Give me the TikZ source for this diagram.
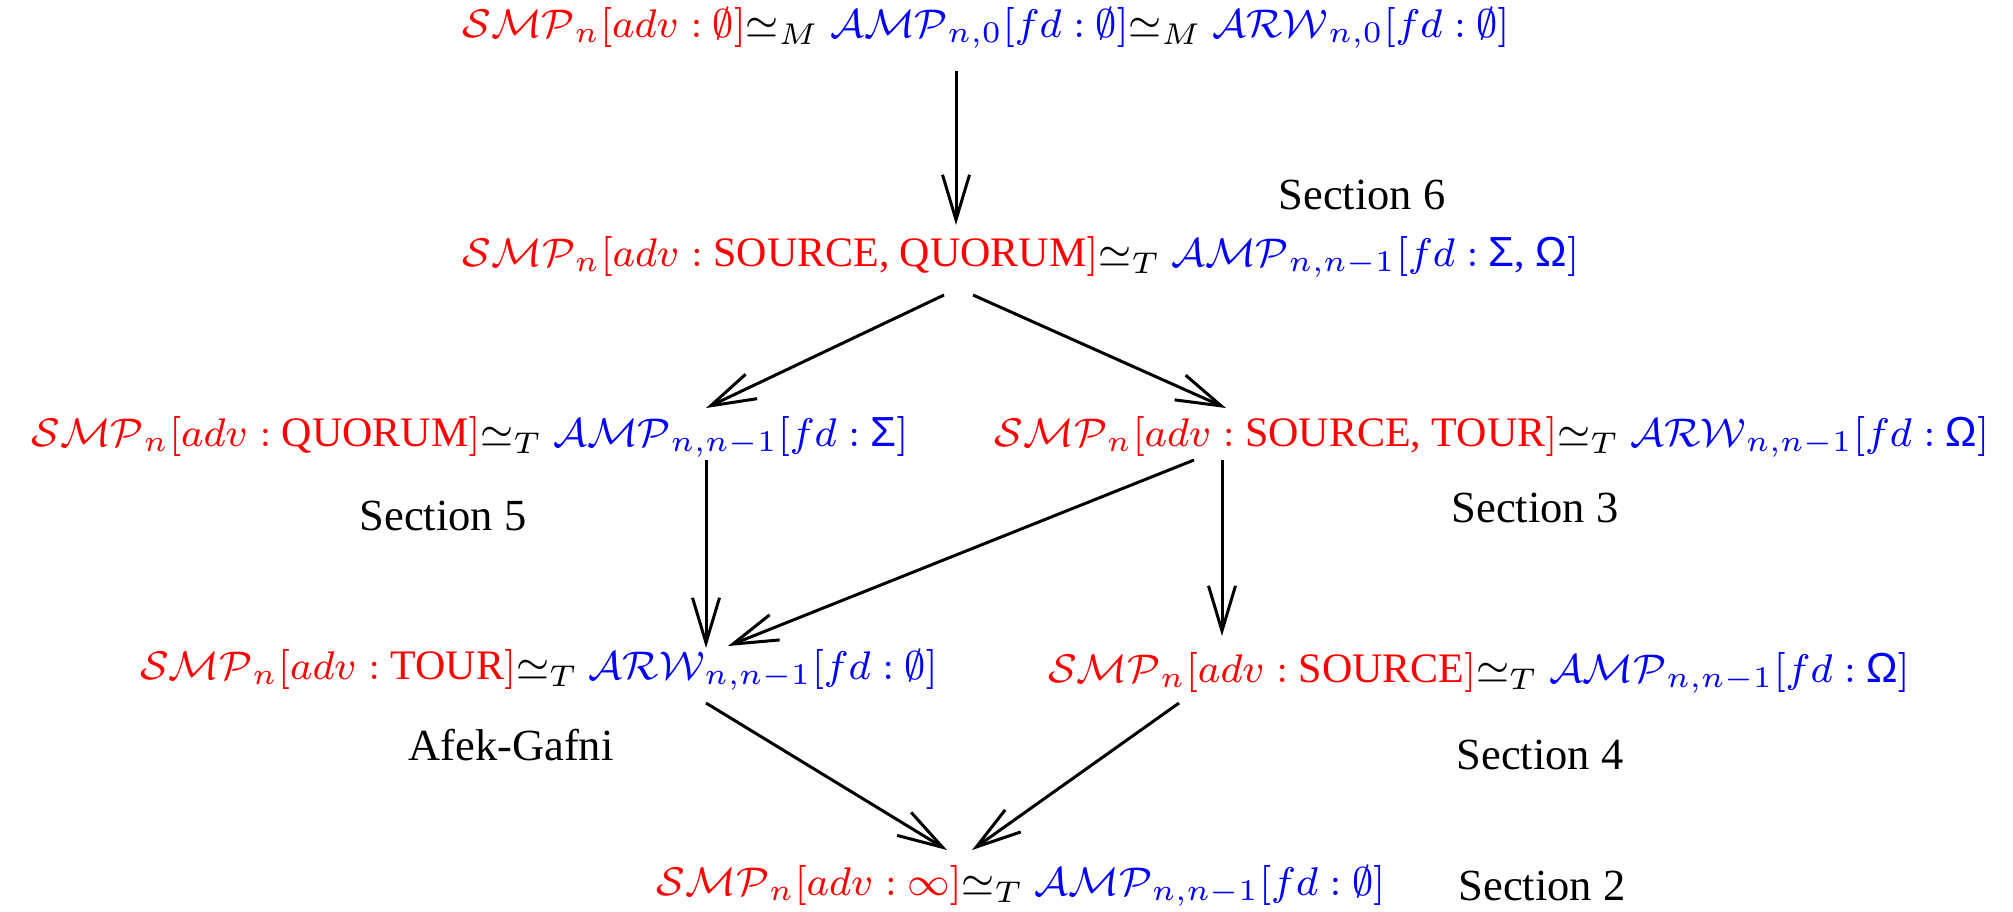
\documentclass[tikz,border=0pt]{standalone}
\usepackage[no-math]{fontspec}
\setmainfont{Liberation Serif}
\setsansfont{Liberation Sans}
\usetikzlibrary{arrows.meta,calc}

\begin{document}
\begin{tikzpicture}[x=0.2pt,y=-0.2pt,>={Straight Barb[length=9pt,width=5.4pt]},
    model/.style={inner sep=0pt,font=\fontsize{8.4}{10}\selectfont},
    sect/.style={inner sep=0pt,font=\fontsize{8.9}{10}\selectfont},
    link/.style={->,line width=0.6pt}]
    \def\lhs#1{\textcolor{red}{$\mathcal{SMP}_n[adv:$ #1$]$}}
    \def\rhs#1#2#3{\textcolor{blue}{$\mathcal{#1}_{#2}[fd:$ #3$]$}}
    \def\eqv#1{$\simeq_{#1}$}

    \useasboundingbox (0,0) rectangle (2013,911);

    \node[model] (sync) at (986,28)
        {\lhs{$\emptyset$}\eqv{M} \rhs{AMP}{n,0}{$\emptyset$}\eqv{M} \rhs{ARW}{n,0}{$\emptyset$}};
    \node[model] (srcquo) at (1021,257)
        {\lhs{SOURCE, QUORUM}\eqv{T} \rhs{AMP}{n,n-1}{\textsf{Σ}, \textsf{Ω}}};
    \node[model] (quo) at (470,437)
        {\lhs{QUORUM}\eqv{T} \rhs{AMP}{n,n-1}{\textsf{Σ}}};
    \node[model] (srctour) at (1492,437)
        {\lhs{SOURCE, TOUR}\eqv{T} \rhs{ARW}{n,n-1}{\textsf{Ω}}};
    \node[model] (tour) at (539,670)
        {\lhs{TOUR}\eqv{T} \rhs{ARW}{n,n-1}{$\emptyset$}};
    \node[model] (src) at (1479,673)
        {\lhs{SOURCE}\eqv{T} \rhs{AMP}{n,n-1}{\textsf{Ω}}};
    \node[model] (free) at (1021,886)
        {\lhs{$\infty$}\eqv{T} \rhs{AMP}{n,n-1}{$\emptyset$}};

    \node[sect] (sec6) at (1362,195) {Section 6};
    \node[sect] (sec5) at (443,516) {Section 5};
    \node[sect] (sec3) at (1535,508) {Section 3};
    \node[sect] (afek) at (511,745) {Afek-Gafni};
    \node[sect] (sec4) at (1540,755) {Section 4};
    \node[sect] (sec2) at (1542,886) {Section 2};

    \draw[link] ($(sync)+(-30,43)$) -- ($(srcquo)+(-65,-32)$);
    \draw[link] ($(srcquo)+(-77,38)$) -- ($(quo)+(236,-29)$);
    \draw[link] ($(srcquo)+(-48,38)$) -- ($(srctour)+(-266,-29)$);
    \draw[link] ($(quo)+(236,23)$) -- ($(tour)+(167,-22)$);
    \draw[link] ($(srctour)+(-270,23)$) -- ($(src)+(-257,-37)$);
    \draw[link] ($(srctour)+(-298,23)$) -- ($(tour)+(189,-24)$);
    \draw[link] ($(tour)+(167,33)$) -- ($(free)+(-74,-36)$);
    \draw[link] ($(src)+(-300,30)$) -- ($(free)+(-49,-36)$);
\end{tikzpicture}
\end{document}
